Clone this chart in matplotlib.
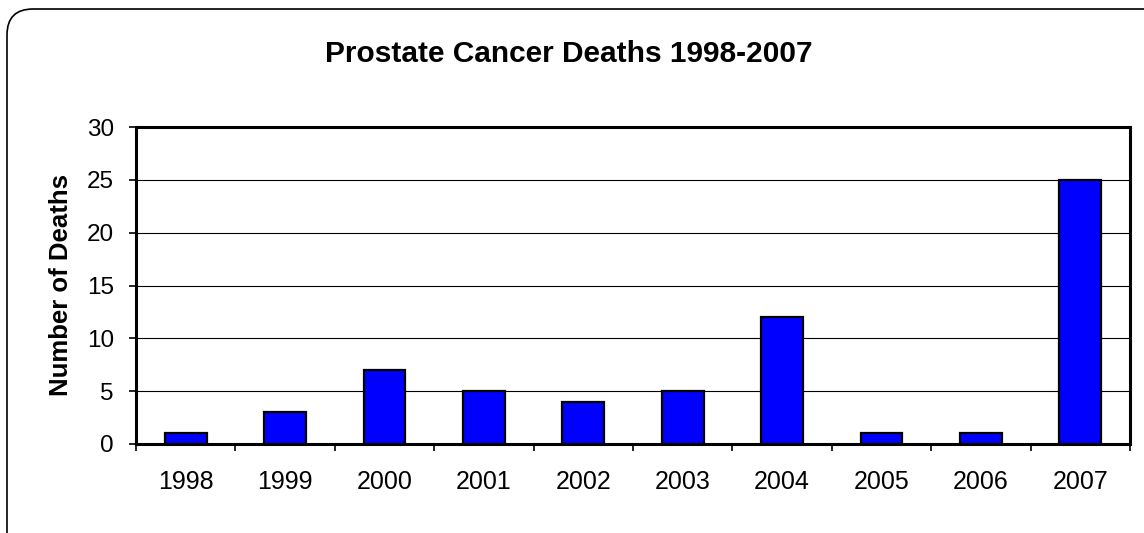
import matplotlib
matplotlib.use("Agg")
import matplotlib.pyplot as plt
from matplotlib.patches import FancyBboxPatch
from matplotlib.transforms import IdentityTransform
import numpy as np

years = ["1998", "1999", "2000", "2001", "2002", "2003", "2004", "2005", "2006", "2007"]
deaths = [1, 3, 7, 5, 4, 5, 12, 1, 1, 25]
title = "Prostate Cancer Deaths 1998-2007"
ylabel = "Number of Deaths"

plt.rcParams['font.family'] = ['Liberation Sans', 'DejaVu Sans']

W, H = 1144, 533
fig = plt.figure(figsize=(W / 100, H / 100), dpi=100)
ax = fig.add_axes([136 / W, 1 - 444 / H, (1130 - 136) / W, (444 - 127) / H])

x = np.arange(len(years))
ax.bar(x, deaths, width=0.42, color="#0000FF", edgecolor="black", linewidth=1.6, zorder=3)

ax.set_xlim(-0.5, len(years) - 0.5)
ax.set_ylim(0, 30)
ax.set_yticks(np.arange(0, 31, 5))
ax.yaxis.grid(True, color="black", linewidth=0.8)
ax.set_axisbelow(True)

ax.set_xticks(np.arange(-0.5, len(years), 1.0))
ax.set_xticklabels([])
ax.set_xticks(x, minor=True)
ax.set_xticklabels(years, minor=True)
ax.tick_params(axis="x", which="major", direction="out", length=5, width=1.2)
ax.tick_params(axis="x", which="minor", length=0, pad=19, labelsize=18)
ax.tick_params(axis="y", direction="out", length=5, width=1.2, pad=11, labelsize=17.5)

for s in ax.spines.values():
    s.set_linewidth(2.2)
    s.set_color("black")

ax.set_ylabel(ylabel, fontsize=18.5, fontweight="bold", labelpad=10)
fig.text(569 / W, 1 - 62 / H, title, ha="center", va="baseline", fontsize=21.5, fontweight="bold")

border = FancyBboxPatch((7, -40), 1200, 533 - 9 + 40, boxstyle="round,pad=0,rounding_size=26",
                        transform=IdentityTransform(), facecolor="none", edgecolor="black",
                        linewidth=1.2)
fig.add_artist(border)

fig.savefig("out.png", dpi=100)
